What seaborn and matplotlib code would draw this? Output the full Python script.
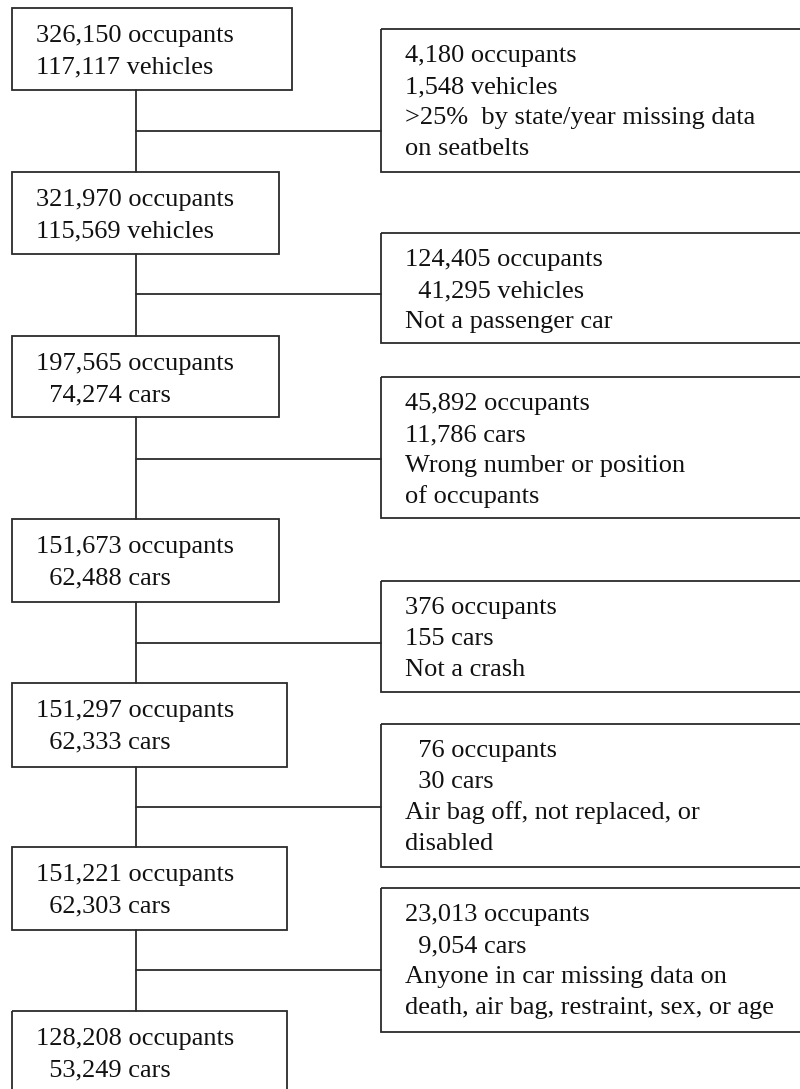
import matplotlib
matplotlib.use("Agg")
import matplotlib.pyplot as plt
from matplotlib.patches import Rectangle
import seaborn as sns

# Flow of exclusions: remaining sample (left) and excluded records (right)
kept_occupants = ["326,150", "321,970", "197,565", "151,673", "151,297", "151,221", "128,208"]
kept_units = ["117,117 vehicles", "115,569 vehicles", "  74,274 cars", "  62,488 cars",
              "  62,333 cars", "  62,303 cars", "  53,249 cars"]

dropped_occupants = ["4,180", "124,405", "45,892", "376", "  76", "23,013"]
dropped_units = ["1,548 vehicles", "  41,295 vehicles", "11,786 cars", "155 cars",
                 "  30 cars", "  9,054 cars"]
dropped_reasons = [
    [">25%  by state/year missing data", "on seatbelts"],
    ["Not a passenger car"],
    ["Wrong number or position", "of occupants"],
    ["Not a crash"],
    ["Air bag off, not replaced, or", "disabled"],
    ["Anyone in car missing data on", "death, air bag, restraint, sex, or age"],
]

# layout in pixel units (top, bottom, right edge)
left_top = [8, 172, 336, 519, 683, 847, 1011]
left_bottom = [90, 254, 417, 602, 767, 930, 1110]
left_right = [292, 279, 279, 279, 287, 287, 287]
right_top = [29, 233, 377, 581, 724, 888]
right_bottom = [172, 343, 518, 692, 867, 1032]
connector_y = [131, 294, 459, 643, 807, 970]

sns.set_theme(style="white")
plt.rcParams["font.family"] = ["Liberation Serif", "DejaVu Serif"]

fig = plt.figure(figsize=(8, 10.89), dpi=100)
ax = fig.add_axes([0, 0, 1, 1])
ax.set_xlim(0, 800)
ax.set_ylim(1089, 0)
ax.axis("off")

line_kw = dict(color="#2b2b2b", lw=1.3)
fs = 19
spacing = 31
spine_x = 136

# main spine
for i in range(len(left_top) - 1):
    ax.plot([spine_x, spine_x], [left_bottom[i], left_top[i + 1]], **line_kw)

for i in range(len(left_top)):
    ax.add_patch(Rectangle((12, left_top[i]), left_right[i] - 12,
                           left_bottom[i] - left_top[i], fill=False, **line_kw))
    lines = [kept_occupants[i] + " occupants", kept_units[i]]
    for j, s in enumerate(lines):
        ax.text(36, left_top[i] + 34 + j * spacing, s, fontsize=fs,
                va="baseline", ha="left", color="#111111")

for i in range(len(right_top)):
    ax.plot([spine_x, 381], [connector_y[i], connector_y[i]], **line_kw)
    ax.add_patch(Rectangle((381, right_top[i]), 430,
                           right_bottom[i] - right_top[i], fill=False, **line_kw))
    lines = [dropped_occupants[i] + " occupants", dropped_units[i]] + dropped_reasons[i]
    for j, s in enumerate(lines):
        ax.text(405, right_top[i] + 33 + j * spacing, s, fontsize=fs,
                va="baseline", ha="left", color="#111111")

fig.savefig("out.png", dpi=100)
